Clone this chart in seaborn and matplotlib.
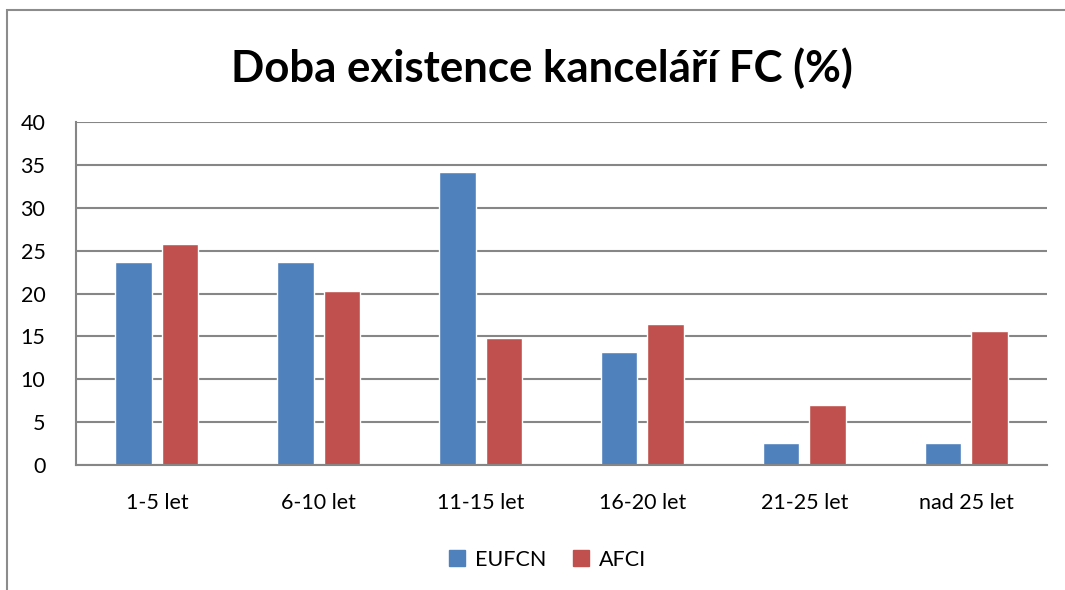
import matplotlib
matplotlib.use("Agg")
import matplotlib.pyplot as plt
from matplotlib.patches import Rectangle
from matplotlib.lines import Line2D
import pandas as pd
import seaborn as sns

# Data
categories = ["1-5 let", "6-10 let", "11-15 let", "16-20 let", "21-25 let", "nad 25 let"]
eufcn = [23.7, 23.7, 34.2, 13.2, 2.6, 2.6]
afci = [25.8, 20.3, 14.8, 16.4, 7.0, 15.6]
series_names = ["EUFCN", "AFCI"]
title = "Doba existence kanceláří FC (%)"

colors = {"EUFCN": "#4F81BD", "AFCI": "#C0504D"}
GRID = "#868686"

df = pd.DataFrame({
    "kategorie": categories * 2,
    "hodnota": eufcn + afci,
    "serie": [series_names[0]] * len(categories) + [series_names[1]] * len(categories),
})

sns.set_theme(style="white")
plt.rcParams["font.family"] = ["Lato", "DejaVu Sans"]
plt.rcParams["text.color"] = "black"

fig = plt.figure(figsize=(10.65, 5.9), dpi=100)
ax = fig.add_axes([76 / 1065, 1 - 465 / 590, (1047 - 76) / 1065, (465 - 122) / 590])

sns.barplot(data=df, x="kategorie", y="hodnota", hue="serie", order=categories,
            hue_order=series_names, palette=colors, width=0.574, gap=0.215,
            saturation=1, ax=ax, legend=False)

ax.set_ylim(0, 40)
ax.set_xlim(-0.5, len(categories) - 0.5)
ax.set_yticks(range(0, 41, 5))
ax.yaxis.grid(True, color=GRID, linewidth=1.5)
ax.set_axisbelow(True)
for side in ["top", "right"]:
    ax.spines[side].set_visible(False)
for side in ["left", "bottom"]:
    ax.spines[side].set_color(GRID)
    ax.spines[side].set_linewidth(1.5)
ax.tick_params(axis="both", length=0, labelsize=15.5, colors="black")
ax.tick_params(axis="y", pad=22)
ax.tick_params(axis="x", pad=20)
ax.set_xlabel("")
ax.set_ylabel("")

handles = [Line2D([], [], marker="s", linestyle="none", markersize=11,
                  markerfacecolor=colors[s], markeredgecolor=colors[s], label=s)
           for s in series_names]
ax.legend(handles=handles, loc="upper center", bbox_to_anchor=(0.486, -0.19), ncol=2,
          frameon=False, fontsize=15.5, handlelength=0.7, columnspacing=1.3,
          handletextpad=0.45)

fig.text(542 / 1065, 1 - 68 / 590, title, ha="center", va="center", fontsize=31.5,
         fontweight="bold", color="black")

# chart frame (left and top edges visible as in the reference)
fig.patches.append(Rectangle((7 / 1065, -0.1), 1.2, 1 - 10 / 590 + 0.1, transform=fig.transFigure,
                             fill=False, edgecolor="#8c8c8c", linewidth=1.5))

fig.savefig("out.png", dpi=100)
